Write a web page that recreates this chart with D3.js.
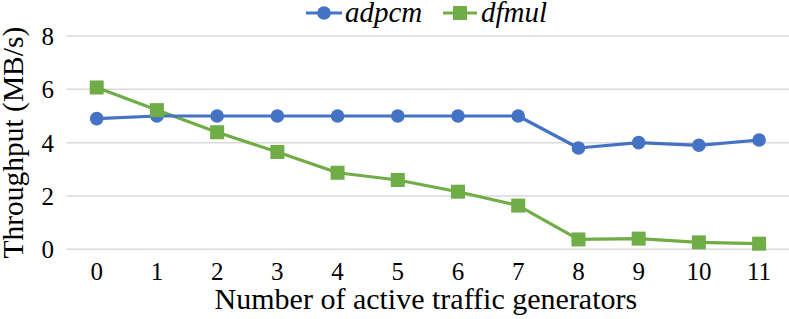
<!DOCTYPE html>
<html>
<head>
<meta charset="utf-8">
<script src="https://cdn.jsdelivr.net/npm/d3@7"></script>
<style>
  html, body { margin: 0; padding: 0; background: #fff; }
</style>
</head>
<body>
<svg id="chart" width="789" height="319"></svg>
<script>
const categories = ["0","1","2","3","4","5","6","7","8","9","10","11"];
const adpcm = [4.9, 5.0, 5.0, 5.0, 5.0, 5.0, 5.0, 5.0, 3.8, 4.0, 3.9, 4.1];
const dfmul = [6.07, 5.22, 4.39, 3.65, 2.87, 2.6, 2.16, 1.64, 0.37, 0.4, 0.26, 0.21];
const yTicks = [0, 2, 4, 6, 8];
const seriesNames = ["adpcm", "dfmul"];

const FONT = "Liberation Serif";
const svg = d3.select("#chart");
const plotLeft = 66.6, plotRight = 789.2, plotTop = 36, plotBottom = 249.3;

const x = d3.scaleBand().domain(categories).range([plotLeft, plotRight]).padding(0);
const y = d3.scaleLinear().domain([0, 8]).range([plotBottom, plotTop]);
const cx = d => x(d) + x.bandwidth() / 2;

function txt(sel) { return sel.style("font-family", FONT).attr("fill", "#000"); }

// gridlines
svg.append("g").selectAll("line").data(yTicks).join("line")
  .attr("x1", plotLeft).attr("x2", plotRight)
  .attr("y1", d => y(d)).attr("y2", d => y(d))
  .attr("stroke", "#d9d9d9").attr("stroke-width", 1.5);

// y tick labels
txt(svg.append("g").selectAll("text").data(yTicks).join("text"))
  .attr("x", 54).attr("y", d => y(d) + 9)
  .attr("text-anchor", "end").style("font-size", "25px")
  .text(d => d);

// x tick labels
txt(svg.append("g").selectAll("text").data(categories).join("text"))
  .attr("x", d => cx(d)).attr("y", 280)
  .attr("text-anchor", "middle").style("font-size", "25px")
  .text(d => d);

// axis titles
txt(svg.append("text")).attr("x", (plotLeft + plotRight) / 2 - 2).attr("y", 309)
  .attr("text-anchor", "middle").style("font-size", "30px")
  .text("Number of active traffic generators");
txt(svg.append("text"))
  .attr("transform", `translate(23, ${(plotTop + plotBottom) / 2}) rotate(-90)`)
  .attr("text-anchor", "middle").style("font-size", "29.5px")
  .text("Throughput (MB/s)");

const colors = { adpcm: "#4472C4", dfmul: "#70AD47" };
const line = d3.line().x((d, i) => cx(categories[i])).y(d => y(d));

[["dfmul", dfmul], ["adpcm", adpcm]].forEach(([name, vals]) => {
  svg.append("path").datum(vals)
    .attr("d", line).attr("fill", "none")
    .attr("stroke", colors[name]).attr("stroke-width", 3.2).attr("stroke-linejoin", "round");
});
svg.append("g").selectAll("circle").data(adpcm).join("circle")
  .attr("cx", (d, i) => cx(categories[i])).attr("cy", d => y(d))
  .attr("r", 6.8).attr("fill", colors.adpcm);
svg.append("g").selectAll("rect").data(dfmul).join("rect")
  .attr("x", (d, i) => cx(categories[i]) - 7).attr("y", d => y(d) - 7)
  .attr("width", 14).attr("height", 14).attr("fill", colors.dfmul);

// legend
const legend = [
  { name: seriesNames[0], x0: 306, x1: 342, tx: 345, marker: "circle" },
  { name: seriesNames[1], x0: 443, x1: 477, tx: 481, marker: "rect" }
];
legend.forEach(l => {
  const g = svg.append("g");
  g.append("line").attr("x1", l.x0).attr("x2", l.x1).attr("y1", 13).attr("y2", 13)
    .attr("stroke", colors[l.name]).attr("stroke-width", 3.2);
  const mx = (l.x0 + l.x1) / 2;
  if (l.marker === "circle") {
    g.append("circle").attr("cx", mx).attr("cy", 13).attr("r", 6.8).attr("fill", colors[l.name]);
  } else {
    g.append("rect").attr("x", mx - 7).attr("y", 6).attr("width", 14).attr("height", 14).attr("fill", colors[l.name]);
  }
  txt(g.append("text")).attr("x", l.tx).attr("y", 22).style("font-size", "29px")
    .style("font-style", "italic").text(l.name);
});
</script>
</body>
</html>
